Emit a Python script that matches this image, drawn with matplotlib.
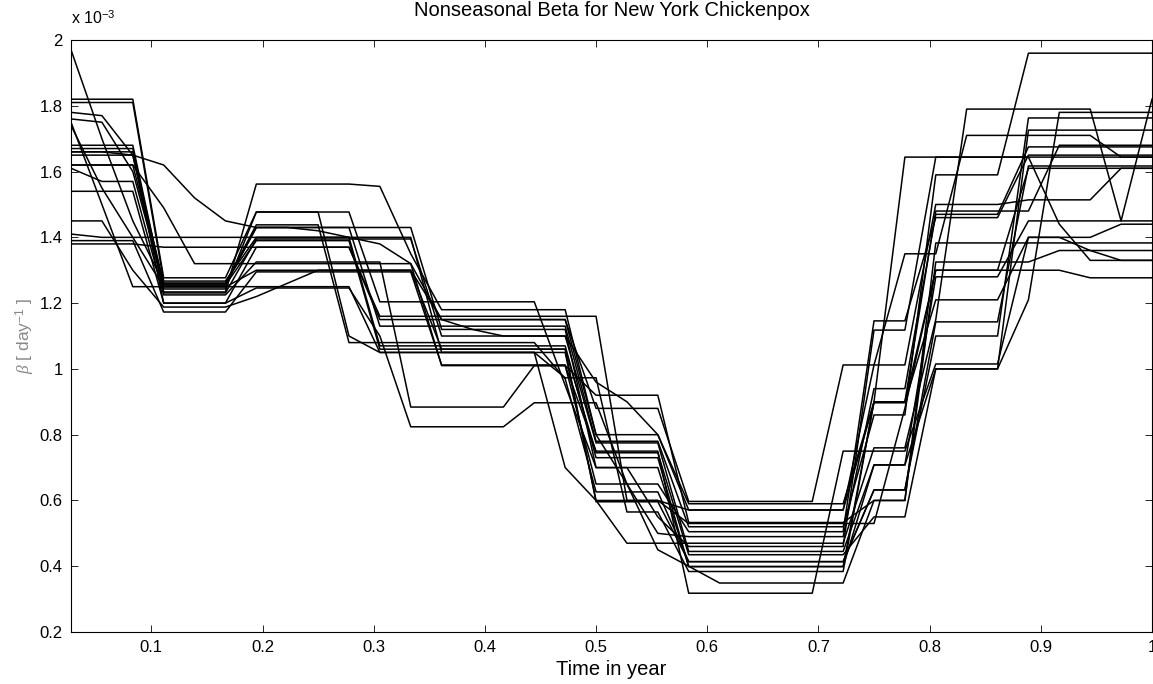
import numpy as np
import matplotlib
matplotlib.use('Agg')
import matplotlib.pyplot as plt

plt.rcParams['font.family'] = ['Liberation Sans', 'DejaVu Sans']
plt.rcParams['mathtext.fontset'] = 'custom'
plt.rcParams['mathtext.rm'] = 'Liberation Sans'
plt.rcParams['mathtext.it'] = 'Liberation Serif:italic'

# time grid: 36 knots per year (t = k/36)
knots = np.arange(1, 37)
t = knots / 36.0

# beta values (units of 1e-3 per day), one run per list, read at each knot
run01 = [1.97, 1.70, 1.45, 1.26, 1.26, 1.26, 1.43, 1.43, 1.43, 1.43, 1.13, 1.13, 1.13, 1.13, 1.13, 1.13, 1.13, 0.78,
         0.78, 0.78, 0.52, 0.52, 0.52, 0.52, 0.52, 0.52, 0.86, 0.86, 1.59, 1.59, 1.59, 1.96, 1.96, 1.96, 1.96, 1.96]
run02 = [1.82, 1.82, 1.82, 1.277, 1.277, 1.277, 1.477, 1.477, 1.477, 1.10, 1.05, 1.05, 1.05, 1.05, 1.05, 1.05, 1.05, 0.60,
         0.47, 0.47, 0.47, 0.47, 0.47, 0.47, 0.47, 0.47, 0.76, 0.76, 1.15, 1.79, 1.79, 1.79, 1.79, 1.79, 1.45, 1.82]
run03 = [1.81, 1.81, 1.81, 1.267, 1.267, 1.267, 1.40, 1.40, 1.40, 1.40, 1.07, 1.07, 1.07, 1.07, 1.07, 1.07, 1.07, 0.73,
         0.73, 0.73, 0.399, 0.399, 0.399, 0.399, 0.399, 0.399, 0.708, 0.708, 1.0, 1.0, 1.0, 1.21, 1.78, 1.78, 1.78, 1.78]
run04 = [1.78, 1.77, 1.65, 1.261, 1.261, 1.261, 1.438, 1.438, 1.438, 1.08, 1.08, 1.08, 1.08, 1.08, 1.08, 1.08, 0.97, 0.626,
         0.626, 0.626, 0.414, 0.414, 0.414, 0.414, 0.414, 0.414, 0.632, 0.632, 1.10, 1.10, 1.10, 1.763, 1.763, 1.763, 1.763, 1.763]
run05 = [1.76, 1.75, 1.60, 1.255, 1.255, 1.255, 1.39, 1.39, 1.39, 1.39, 1.06, 1.06, 1.06, 1.06, 1.06, 1.06, 1.06, 0.745,
         0.745, 0.745, 0.435, 0.435, 0.435, 0.435, 0.435, 0.435, 0.55, 0.55, 1.0, 1.0, 1.0, 1.726, 1.726, 1.726, 1.726, 1.726]
run06 = [1.74, 1.55, 1.40, 1.249, 1.249, 1.249, 1.30, 1.30, 1.30, 1.30, 1.30, 1.30, 1.15, 1.15, 1.15, 1.15, 1.15, 0.88,
         0.88, 0.88, 0.597, 0.597, 0.597, 0.597, 0.597, 1.012, 1.012, 1.35, 1.35, 1.71, 1.71, 1.71, 1.71, 1.71, 1.644, 1.644]
run07 = [1.68, 1.68, 1.68, 1.243, 1.243, 1.243, 1.477, 1.477, 1.477, 1.477, 1.204, 1.204, 1.204, 1.204, 1.204, 1.204, 0.95, 0.70,
         0.70, 0.55, 0.46, 0.46, 0.46, 0.46, 0.46, 0.46, 1.118, 1.118, 1.644, 1.644, 1.644, 1.644, 1.44, 1.33, 1.33, 1.33]
run08 = [1.67, 1.67, 1.67, 1.234, 1.234, 1.234, 1.562, 1.562, 1.562, 1.562, 1.555, 1.35, 1.18, 1.18, 1.18, 1.18, 1.18, 0.80,
         0.65, 0.50, 0.49, 0.49, 0.49, 0.49, 0.49, 0.49, 0.94, 0.94, 1.47, 1.47, 1.47, 1.675, 1.675, 1.675, 1.675, 1.675]
run09 = [1.66, 1.66, 1.65, 1.62, 1.52, 1.45, 1.43, 1.43, 1.42, 1.40, 1.38, 1.32, 1.15, 1.12, 1.10, 1.10, 1.10, 0.96,
         0.90, 0.80, 0.571, 0.571, 0.571, 0.571, 0.571, 0.571, 0.897, 0.897, 1.21, 1.21, 1.21, 1.40, 1.40, 1.36, 1.36, 1.36]
run10 = [1.65, 1.65, 1.65, 1.231, 1.231, 1.231, 1.395, 1.395, 1.395, 1.395, 1.395, 1.395, 1.10, 1.10, 1.10, 1.10, 1.10, 0.775,
         0.775, 0.775, 0.445, 0.445, 0.445, 0.445, 0.445, 0.445, 0.708, 0.708, 1.28, 1.28, 1.28, 1.45, 1.45, 1.45, 1.45, 1.45]
run11 = [1.62, 1.62, 1.62, 1.49, 1.32, 1.32, 1.32, 1.32, 1.32, 1.32, 1.32, 1.32, 1.01, 1.01, 1.01, 1.01, 1.01, 0.65,
         0.65, 0.65, 0.505, 0.505, 0.505, 0.505, 0.505, 0.505, 1.146, 1.146, 1.46, 1.46, 1.46, 1.65, 1.65, 1.65, 1.65, 1.65]
run12 = [1.61, 1.57, 1.57, 1.225, 1.225, 1.225, 1.325, 1.325, 1.325, 1.325, 1.325, 0.884, 0.884, 0.884, 0.884, 1.01, 1.01, 0.92,
         0.92, 0.92, 0.533, 0.533, 0.533, 0.533, 0.533, 0.533, 0.60, 0.60, 1.383, 1.383, 1.383, 1.383, 1.383, 1.383, 1.383, 1.383]
run13 = [1.54, 1.54, 1.54, 1.20, 1.20, 1.20, 1.246, 1.246, 1.246, 1.246, 1.10, 0.824, 0.824, 0.824, 0.824, 0.897, 0.897, 0.897,
         0.65, 0.45, 0.40, 0.349, 0.349, 0.349, 0.349, 0.349, 0.60, 0.60, 1.325, 1.325, 1.325, 1.325, 1.36, 1.36, 1.33, 1.33]
run14 = [1.45, 1.45, 1.30, 1.188, 1.188, 1.188, 1.22, 1.26, 1.30, 1.30, 1.30, 1.30, 1.06, 1.06, 1.06, 1.06, 1.06, 0.596,
         0.596, 0.596, 0.414, 0.414, 0.414, 0.414, 0.414, 0.414, 0.632, 0.632, 1.143, 1.143, 1.143, 1.617, 1.617, 1.617, 1.617, 1.617]
run15 = [1.41, 1.40, 1.40, 1.40, 1.40, 1.40, 1.40, 1.40, 1.40, 1.40, 1.40, 1.40, 1.05, 1.05, 1.05, 1.05, 0.973, 0.973,
         0.565, 0.565, 0.384, 0.384, 0.384, 0.384, 0.384, 0.384, 0.90, 0.90, 1.30, 1.30, 1.30, 1.30, 1.30, 1.277, 1.277, 1.277]
run16 = [1.39, 1.39, 1.39, 1.173, 1.173, 1.173, 1.295, 1.295, 1.295, 1.295, 1.295, 1.295, 1.012, 1.012, 1.012, 1.012, 1.012, 0.75,
         0.75, 0.75, 0.318, 0.318, 0.318, 0.318, 0.318, 0.75, 0.75, 0.75, 1.015, 1.015, 1.015, 1.40, 1.40, 1.40, 1.44, 1.44]
run17 = [1.38, 1.38, 1.38, 1.37, 1.37, 1.37, 1.37, 1.37, 1.37, 1.37, 1.15, 1.15, 1.15, 1.15, 1.15, 1.15, 1.15, 0.80,
         0.80, 0.80, 0.59, 0.59, 0.59, 0.59, 0.59, 0.59, 0.90, 1.644, 1.644, 1.644, 1.644, 1.644, 1.644, 1.644, 1.644, 1.644]
run18 = [1.75, 1.50, 1.25, 1.25, 1.25, 1.25, 1.25, 1.25, 1.25, 1.25, 1.05, 1.05, 1.05, 1.05, 1.05, 1.05, 0.70, 0.60,
         0.60, 0.60, 0.53, 0.53, 0.53, 0.53, 0.53, 0.53, 0.53, 0.88, 1.30, 1.30, 1.30, 1.61, 1.61, 1.61, 1.61, 1.61]
run19 = [1.62, 1.62, 1.62, 1.255, 1.255, 1.255, 1.43, 1.43, 1.43, 1.43, 1.43, 1.43, 1.12, 1.12, 1.12, 1.12, 1.12, 0.70,
         0.70, 0.70, 0.399, 0.399, 0.399, 0.399, 0.399, 0.399, 0.90, 0.90, 1.48, 1.48, 1.48, 1.48, 1.68, 1.68, 1.68, 1.68]
run20 = [1.66, 1.66, 1.66, 1.20, 1.20, 1.20, 1.37, 1.37, 1.37, 1.37, 1.16, 1.16, 1.16, 1.16, 1.16, 1.16, 1.16, 1.16,
         0.60, 0.60, 0.571, 0.571, 0.571, 0.571, 0.571, 0.571, 1.012, 1.012, 1.50, 1.50, 1.50, 1.514, 1.514, 1.514, 1.61, 1.61]

runs = [run01, run02, run03, run04, run05, run06, run07, run08, run09, run10,
        run11, run12, run13, run14, run15, run16, run17, run18, run19, run20]

xticks = [0.1, 0.2, 0.3, 0.4, 0.5, 0.6, 0.7, 0.8, 0.9, 1.0]
xticklabels = ['0.1', '0.2', '0.3', '0.4', '0.5', '0.6', '0.7', '0.8', '0.9', '1']
yticks = [0.2, 0.4, 0.6, 0.8, 1.0, 1.2, 1.4, 1.6, 1.8, 2.0]
yticklabels = ['0.2', '0.4', '0.6', '0.8', '1', '1.2', '1.4', '1.6', '1.8', '2']

fig = plt.figure(figsize=(11.53, 6.84), dpi=100)
ax = fig.add_axes([0.0616, 0.076, 0.9375, 0.8655])

for r in runs:
    ax.plot(t, r, color='black', linewidth=1.1)

ax.set_xlim(1 / 36.0, 1.0)
ax.set_ylim(0.2, 2.0)
ax.set_xticks(xticks)
ax.set_xticklabels(xticklabels)
ax.set_yticks(yticks)
ax.set_yticklabels(yticklabels)
ax.tick_params(direction='in', top=True, right=True, length=5, width=0.6, labelsize=12, pad=6)
for s in ax.spines.values():
    s.set_linewidth(0.8)

ax.set_title('Nonseasonal Beta for New York Chickenpox', fontsize=14.5, pad=17)
ax.set_xlabel('Time in year', fontsize=14.5, labelpad=3)
ax.set_ylabel(r'$\it{\beta}$ [ day$^{-1}$ ]', fontsize=12.5, color='#888888', labelpad=2)
ax.text(0.0, 1.022, r'x 10$^{-3}$', transform=ax.transAxes, fontsize=11.5, ha='left', va='bottom')

fig.savefig('out.png', dpi=100)
